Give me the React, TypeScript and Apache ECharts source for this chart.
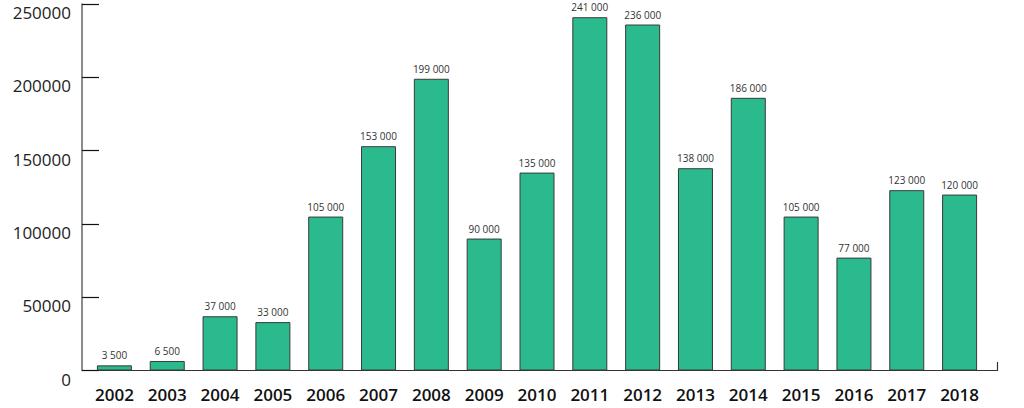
import React, { useEffect, useRef } from "react";
import * as echarts from "echarts";

const years = ["2002","2003","2004","2005","2006","2007","2008","2009","2010","2011","2012","2013","2014","2015","2016","2017","2018"];
const values = [3500, 6500, 37000, 33000, 105000, 153000, 199000, 90000, 135000, 241000, 236000, 138000, 186000, 105000, 77000, 123000, 120000];
const yTicks = [0, 50000, 100000, 150000, 200000, 250000];

const fmt = (v: number) => String(v).replace(/\B(?=(\d{3})+(?!\d))/g, " ");

export default function App() {
  const ref = useRef<HTMLDivElement>(null);
  useEffect(() => {
    if (!ref.current) return;
    const chart = echarts.init(ref.current, null, { renderer: "svg" });
    chart.setOption({
      animation: false,
      backgroundColor: "#ffffff",
      grid: { left: 88, right: 38, top: 4, bottom: 37.5, containLabel: false },
      xAxis: {
        type: "category",
        data: years,
        axisLine: { show: false },
        axisTick: { show: false },
        axisLabel: { color: "#111", fontSize: 17, fontWeight: 600, fontFamily: "Open Sans", margin: 15 },
      },
      yAxis: {
        type: "value",
        min: yTicks[0],
        max: yTicks[yTicks.length - 1],
        interval: 50000,
        offset: 6,
        axisLine: { show: true, lineStyle: { color: "#666", width: 1.5 } },
        axisTick: { show: true, inside: true, length: 17, lineStyle: { color: "#111", width: 1.2 } },
        splitLine: { show: false },
        axisLabel: {
          color: "#222",
          fontSize: 17,
          fontFamily: "Open Sans",
          margin: 11,
          verticalAlign: "top",
          formatter: (v: number) => String(v),
        },
      },
      graphic: [
        { type: "line", shape: { x1: 82, y1: 370.5, x2: 998, y2: 370.5 }, style: { stroke: "#333", lineWidth: 1.2 } },
        { type: "line", shape: { x1: 997.5, y1: 362, x2: 997.5, y2: 371 }, style: { stroke: "#333", lineWidth: 1.2 } },
      ],
      series: [
        {
          type: "bar",
          data: values,
          barWidth: 35,
          itemStyle: { color: "#2aba8e", borderColor: "#3a3a3a", borderWidth: 1 },
          label: {
            show: true,
            position: "top",
            distance: 5,
            fontSize: 10,
            color: "#333",
            fontFamily: "Open Sans",
            formatter: (p: any) => fmt(p.value),
          },
        },
      ],
    });
    return () => chart.dispose();
  }, []);
  return <div ref={ref} style={{ width: 1024, height: 408, position: "absolute", left: 0, top: 0 }} />;
}
